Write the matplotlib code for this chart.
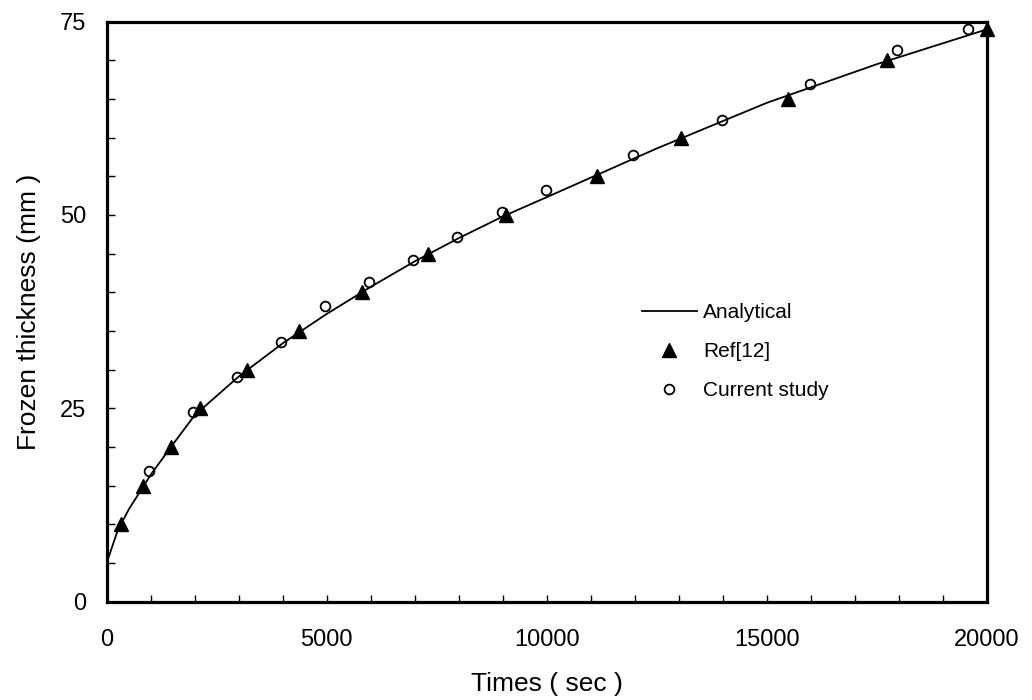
import matplotlib
matplotlib.use('Agg')
import matplotlib.pyplot as plt
from matplotlib.ticker import MultipleLocator

plt.rcParams['font.family'] = ['Liberation Sans', 'DejaVu Sans']

# analytical solution
t_analytical = [0, 250, 500, 1000, 1500, 2000, 3000, 4000, 5000, 6000, 7000,
                8000, 9000, 10000, 12500, 15000, 17500, 20000]
y_analytical = [5, 9.2, 11.9, 16.4, 20.3, 24.1, 29.1, 33.4, 37.2, 40.7, 44.0,
                47.0, 49.8, 52.3, 58.6, 64.5, 69.5, 74.0]

# Ref[12]
t_ref = [318, 818, 1455, 2120, 3182, 4378, 5795, 7309, 9068, 11136, 13045,
         15491, 17727, 20000]
y_ref = [10, 15, 20, 25, 30, 35, 40, 45, 50, 55, 60, 65, 70, 74]

# current study
t_cur = [970, 1970, 2970, 3960, 4970, 5970, 6970, 7970, 8980, 9980, 11970,
         13980, 15980, 17970, 19580]
y_cur = [16.9, 24.5, 29.1, 33.6, 38.2, 41.3, 44.2, 47.2, 50.4, 53.2, 57.8,
         62.3, 66.9, 71.3, 74.1]

fig = plt.figure(figsize=(10.32, 7.0), dpi=100, facecolor='white')
ax = fig.add_axes([0.1034, 0.1407, 0.8527, 0.8283])

ax.plot(t_analytical, y_analytical, color='black', lw=1.3, label='Analytical',
        zorder=2)
ax.plot(t_ref, y_ref, linestyle='none', marker='^', ms=9.5, color='black',
        label='Ref[12]', zorder=3, clip_on=False)
ax.plot(t_cur, y_cur, linestyle='none', marker='o', ms=7, mfc='none',
        mec='black', mew=1.3, label='Current study', zorder=4, clip_on=False)

ax.set_xlim(0, 20000)
ax.set_ylim(0, 75)
ax.xaxis.set_major_locator(MultipleLocator(5000))
ax.xaxis.set_minor_locator(MultipleLocator(1000))
ax.yaxis.set_major_locator(MultipleLocator(25))
ax.yaxis.set_minor_locator(MultipleLocator(5))

for s in ax.spines.values():
    s.set_linewidth(2.3)

ax.tick_params(axis='both', which='both', direction='in', labelsize=17,
               top=False, right=False, color='black')
ax.tick_params(axis='y', which='both', length=5.5, width=1, pad=15)
ax.tick_params(axis='x', which='both', length=5, width=1, pad=20)

ax.set_xlabel('Times ( sec )', fontsize=19, labelpad=15)
ax.set_ylabel('Frozen thickness (mm )', fontsize=19, labelpad=13)

leg = ax.legend(loc='upper left', bbox_to_anchor=(0.608, 0.514), frameon=False,
                fontsize=15, handlelength=2.65, handletextpad=0.3,
                labelspacing=0.95, borderpad=0, borderaxespad=0)

fig.savefig('out.png', dpi=100, facecolor='white')
